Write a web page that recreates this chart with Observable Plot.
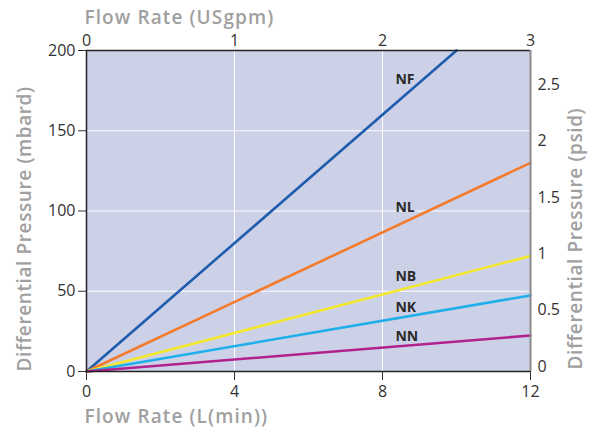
<!DOCTYPE html>
<html><head><meta charset="utf-8">
<script src="https://cdn.jsdelivr.net/npm/d3@7"></script>
<script src="https://cdn.jsdelivr.net/npm/@observablehq/plot@0.6"></script>
<style>body{margin:0;background:#fff;font-family:"Open Sans",sans-serif}</style>
</head><body><div id="chart"></div>
<script>
const series = ["NF","NL","NB","NK","NN"];
const colors = ["#1f5cad","#f47b2b","#f4e82c","#1eaee9","#b2228f"];
const endFlow = [10,12,12,12,12];          // L/min at line end
const endPressure = [200,130,72,47.4,22.4]; // mbard at line end
const labelFlow = [8.35,8.35,8.35,8.35,8.35];
const labelPressure = [182,102,59,40,21.8];
const flowTicks = [0,4,8,12];
const mbarTicks = [0,50,100,150,200];
const usgpmTicks = [0,1,2,3];
const psiTicks = [0,0.5,1,1.5,2,2.5];
const lpmPerUsgpm = 4;        // as drawn on the chart
const mbarPerPsi = 200/2.85;  // as drawn on the chart
const titles = ["Flow Rate (USgpm)","Flow Rate (L(min))","Differential Pressure (mbard)","Differential Pressure (psid)"];

const lines = [];
series.forEach((s,i)=>{ lines.push({s,x:0,y:0}); lines.push({s,x:endFlow[i],y:endPressure[i]}); });
const labels = series.map((s,i)=>({s,x:labelFlow[i],y:labelPressure[i]}));

const titleStyle = {fontSize:19, fontWeight:600, fill:"#a0a0a0", fontFamily:"Open Sans"};
const tickStyle = {fill:"#333", fontSize:16};
const chart = Plot.plot({
  width:598, height:430,
  marginLeft:86, marginRight:68, marginTop:50, marginBottom:59,
  style:{fontFamily:"Open Sans", fontSize:"16px", color:"#333", background:"#fff"},
  x:{domain:[0,12], axis:null},
  y:{domain:[0,200], axis:null},
  color:{domain:series, range:colors},
  marks:[
    Plot.frame({fill:"#ccd1e8", stroke:null}),
    Plot.gridX([4,8], {stroke:"#fff", strokeOpacity:1, strokeWidth:1}),
    Plot.gridY([50,100,150], {stroke:"#fff", strokeOpacity:1, strokeWidth:1}),
    Plot.line(lines, {x:"x", y:"y", z:"s", stroke:"s", strokeWidth:2.6}),
    Plot.text(labels, {x:"x", y:"y", text:"s", textAnchor:"start", fontWeight:700, fontSize:14, fill:"#2a2a2a"}),
    Plot.ruleY([0], {stroke:"#222", strokeWidth:1.5}),
    Plot.ruleY([200], {stroke:"#222", strokeWidth:1.5}),
    Plot.ruleX([0], {stroke:"#222", strokeWidth:1.5}),
    Plot.ruleX([12], {stroke:"#8a8a8a", strokeWidth:2}),
    Plot.axisX(flowTicks, {anchor:"bottom", tickSize:9, tickPadding:5, label:null, stroke:"#333", ...tickStyle}),
    Plot.axisX(usgpmTicks.map(g=>g*lpmPerUsgpm), {anchor:"top", tickSize:0, tickPadding:5, label:null, tickFormat:d=>String(d/lpmPerUsgpm), ...tickStyle}),
    Plot.axisY(mbarTicks, {anchor:"left", tickSize:8, tickPadding:3, label:null, stroke:"#333", ...tickStyle}),
    Plot.axisY(psiTicks.map(p=>p*mbarPerPsi), {anchor:"right", tickSize:0, tickPadding:7, dy:-5, label:null, tickFormat:d=>String(Math.round(d/mbarPerPsi*10)/10), ...tickStyle}),
    Plot.text([titles[0]], {frameAnchor:"top-left", dx:-2, dy:-40, textAnchor:"start", ...titleStyle}),
    Plot.text([titles[1]], {frameAnchor:"bottom-left", dx:-2, dy:51, textAnchor:"start", ...titleStyle}),
    Plot.text([titles[2]], {frameAnchor:"bottom-left", dx:-56, dy:0, rotate:-90, textAnchor:"start", ...titleStyle}),
    Plot.text([titles[3]], {frameAnchor:"bottom-right", dx:51, dy:-2, rotate:-90, textAnchor:"start", ...titleStyle})
  ]
});
d3.select(chart).selectAll("text").each(function(){
  const t = this.textContent;
  if (t === titles[0] || t === titles[1]) this.setAttribute("letter-spacing","1.1px");
  if (t === titles[2] || t === titles[3]) this.setAttribute("letter-spacing","0.6px");
});
document.getElementById("chart").appendChild(chart);
</script>
</body></html>
